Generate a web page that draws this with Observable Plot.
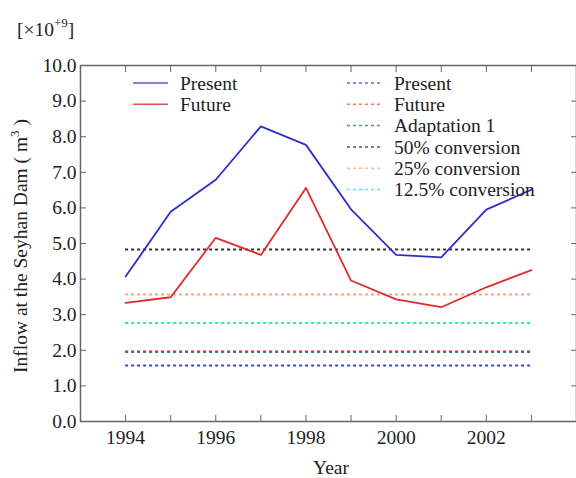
<!DOCTYPE html>
<html><head><meta charset="utf-8">
<script src="https://cdn.jsdelivr.net/npm/d3@7"></script>
<script src="https://cdn.jsdelivr.net/npm/@observablehq/plot@0.6"></script>
<style>body{margin:0;background:#fff} svg text{font-family:'Liberation Serif','Times New Roman',serif}</style>
</head><body><div id="chart"></div>
<script>
const years = [1994, 1995, 1996, 1997, 1998, 1999, 2000, 2001, 2002, 2003];
const present = [4.07, 5.89, 6.79, 8.29, 7.77, 5.96, 4.68, 4.61, 5.95, 6.51];
const future = [3.33, 3.49, 5.16, 4.68, 6.56, 3.96, 3.43, 3.21, 3.77, 4.25];
const lineNames = ["Present", "Future"];
const lineColors = ["#2e2ec8", "#dd2c2c"];
const refNames = ["Present", "Future", "Adaptation 1", "50% conversion", "25% conversion", "12.5% conversion"];
const refValues = [1.57, 1.97, 1.95, 4.83, 3.57, 2.77];
const refColors = ["#4040d8", "#e85a4a", "#3f7f55", "#333333", "#f2a878", "#33dede"];
const yTicks = [0, 1, 2, 3, 4, 5, 6, 7, 8, 9, 10];
const xLabelTicks = [1994, 1996, 1998, 2000, 2002];

const series = years.flatMap((y, i) => [
  {year: y, value: present[i], s: lineNames[0], c: lineColors[0]},
  {year: y, value: future[i], s: lineNames[1], c: lineColors[1]}
]);
const refs = refNames.map((n, i) => ({name: n, value: refValues[i], c: refColors[i]}));

const axisColor = "#666";
const fs = 19.5;
const font = "'Liberation Serif', 'Times New Roman', serif";
const plot = Plot.plot({
  width: 576, height: 478,
  marginLeft: 80, marginRight: 0, marginTop: 65, marginBottom: 57,
  style: {fontFamily: font, fontSize: fs + "px", color: "#222", background: "#fff"},
  x: {domain: [1993, 2004]},
  y: {domain: [0, 10]},
  color: {type: "identity"},
  marks: [
    Plot.ruleY(refs, {y: "value", x1: d => years[0], x2: d => years[years.length - 1], stroke: "c", strokeWidth: 2, strokeDasharray: "3,3"}),
    Plot.line(series, {x: "year", y: "value", z: "s", stroke: "c", strokeWidth: 1.8}),
    Plot.frame({stroke: axisColor, strokeWidth: 1.5}),
    Plot.axisX({anchor: "bottom", ticks: years, tickSize: -6, tickFormat: () => "", stroke: axisColor, label: null}),
    Plot.axisX({anchor: "top", ticks: years, tickSize: -6, tickFormat: () => "", stroke: axisColor, label: null}),
    Plot.axisX({anchor: "bottom", ticks: xLabelTicks, tickSize: 0, tickPadding: 9, tickFormat: d => String(d), fill: "#222", label: null}),
    Plot.axisY({anchor: "left", ticks: yTicks, tickSize: -6, tickFormat: () => "", stroke: axisColor, label: null}),
    Plot.axisY({anchor: "right", ticks: yTicks, tickSize: -6, tickFormat: () => "", stroke: axisColor, label: null}),
    Plot.axisY({anchor: "left", ticks: yTicks, tickSize: 0, tickPadding: 4, tickFormat: d3.format(".1f"), fill: "#222", label: null})
  ]
});
document.getElementById("chart").appendChild(plot);

const svg = d3.select(plot);
const g = svg.append("g").attr("font-family", font).attr("font-size", fs)
  .attr("fill", "#222").attr("text-anchor", "start");

// exponent label
const ex = g.append("text").attr("x", 17).attr("y", 36);
ex.append("tspan").text("[\u00d710");
ex.append("tspan").attr("font-size", 13).attr("dy", -9).text("+9");
ex.append("tspan").attr("dy", 9).text("]");

// x label
g.append("text").attr("x", 331).attr("y", 474).attr("text-anchor", "middle").text("Year");

// y label
const yl = g.append("text").attr("transform", "translate(27,246) rotate(-90)").attr("text-anchor", "middle");
yl.append("tspan").text("Inflow at the Seyhan Dam ( m");
yl.append("tspan").attr("font-size", 13).attr("dy", -8).text("3");
yl.append("tspan").attr("dy", 8).text(" )");

// legend: solid lines
lineNames.forEach((n, i) => {
  const y = 83 + i * 21.3;
  g.append("line").attr("x1", 133).attr("x2", 168).attr("y1", y).attr("y2", y)
    .attr("stroke", lineColors[i]).attr("stroke-width", 1.5).attr("opacity", 0.8);
  g.append("text").attr("x", 180).attr("y", y).attr("dy", "0.35em").text(n);
});
// legend: dashed refs
refNames.forEach((n, i) => {
  const y = 83 + i * 21.3;
  g.append("line").attr("x1", 347).attr("x2", 380).attr("y1", y).attr("y2", y)
    .attr("stroke", refColors[i]).attr("stroke-width", 1.5).attr("stroke-dasharray", "3,3").attr("opacity", 0.8);
  g.append("text").attr("x", 394).attr("y", y).attr("dy", "0.35em").text(n);
});
</script>
</body></html>
